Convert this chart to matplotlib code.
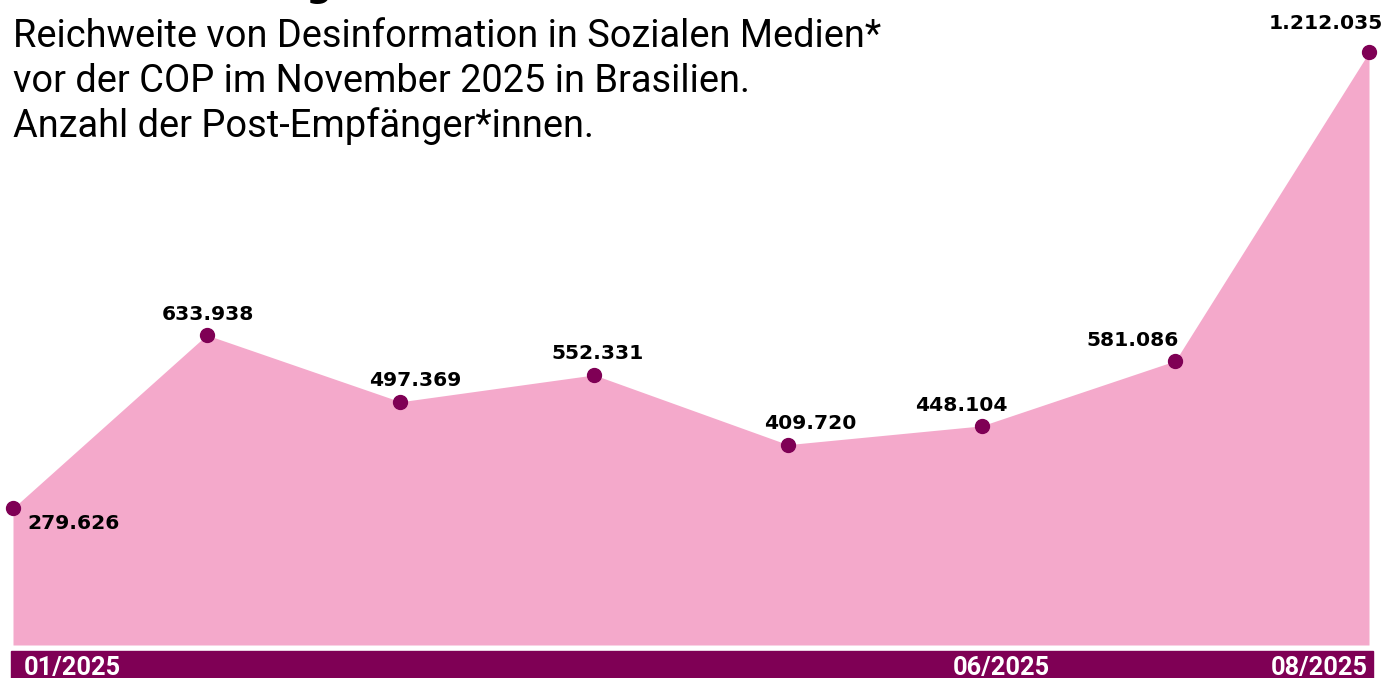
import matplotlib.pyplot as plt
import numpy as np
from matplotlib.patches import Rectangle

# Reichweite (Post-Empfaenger*innen) pro Monat
months = ['01/2025', '02/2025', '03/2025', '04/2025', '05/2025', '06/2025', '07/2025', '08/2025']
reach = [279626, 633938, 497369, 552331, 409720, 448104, 581086, 1212035]
tick_months = ['01/2025', '06/2025', '08/2025']

title = 'Starker Anstieg'
subtitle = ['Reichweite von Desinformation in Sozialen Medien*',
            'vor der COP im November 2025 in Brasilien.',
            'Anzahl der Post-Empfänger*innen.']

PINK = '#f4a9cb'
PURPLE = '#7f0055'

W, H = 1395, 678
fig = plt.figure(figsize=(W / 100, H / 100), dpi=100)
ax = fig.add_axes([13 / W, 33 / H, 1356 / W, 645 / H])

x = np.arange(len(months))
ax.fill_between(x, reach, color=PINK, lw=0)
ax.plot(x, reach, 'o', color=PURPLE, ms=10, clip_on=False, zorder=3)
ax.set_xlim(0, len(months) - 1)
ax.set_ylim(0, 1.319e6)
ax.axis('off')

# value labels (offsets in pixels)
label_off = [(14, -21, 'left'), (1, 15, 'center'), (15, 16, 'center'), (3, 16, 'center'),
             (22, 16, 'center'), (-20, 15, 'center'), (-43, 15, 'center'), (-43, 23, 'center')]
for xi, v, (dx, dy, ha) in zip(x, reach, label_off):
    ax.annotate(f'{v:,}'.replace(',', '.'), xy=(xi, v), xytext=(dx, dy),
                textcoords='offset pixels', ha=ha, va='baseline',
                fontsize=14.6, fontweight='bold', color='black', annotation_clip=False)

# purple axis band
fig.patches.append(Rectangle((11 / W, 0), (1373 - 11) / W, 27 / H,
                             transform=fig.transFigure, color=PURPLE, zorder=-1))
tick_off = {'01/2025': (11, 'left'), '06/2025': (20, 'center'), '08/2025': (-1, 'right')}
for m in tick_months:
    dx, ha = tick_off[m]
    ax.annotate(m, xy=(months.index(m), 0), xycoords=ax.get_xaxis_transform(),
                xytext=(dx, -30), textcoords='offset pixels', ha=ha, va='baseline',
                fontsize=18.3, fontweight='bold', family='Roboto', fontstretch='condensed',
                color='white', annotation_clip=False, zorder=5)

# title (mostly cut off at the top) and subtitle
fig.text(13 / W, 1 + 3 / H, title, ha='left', va='baseline', fontsize=26,
         fontweight='bold', color='black')
for i, line in enumerate(subtitle):
    fig.text(13 / W, 1 - (47 + 45 * i) / H, line, ha='left', va='baseline',
             fontsize=27.4, family='Roboto', fontstretch='condensed', color='black')

fig.savefig('out.png', dpi=100)
